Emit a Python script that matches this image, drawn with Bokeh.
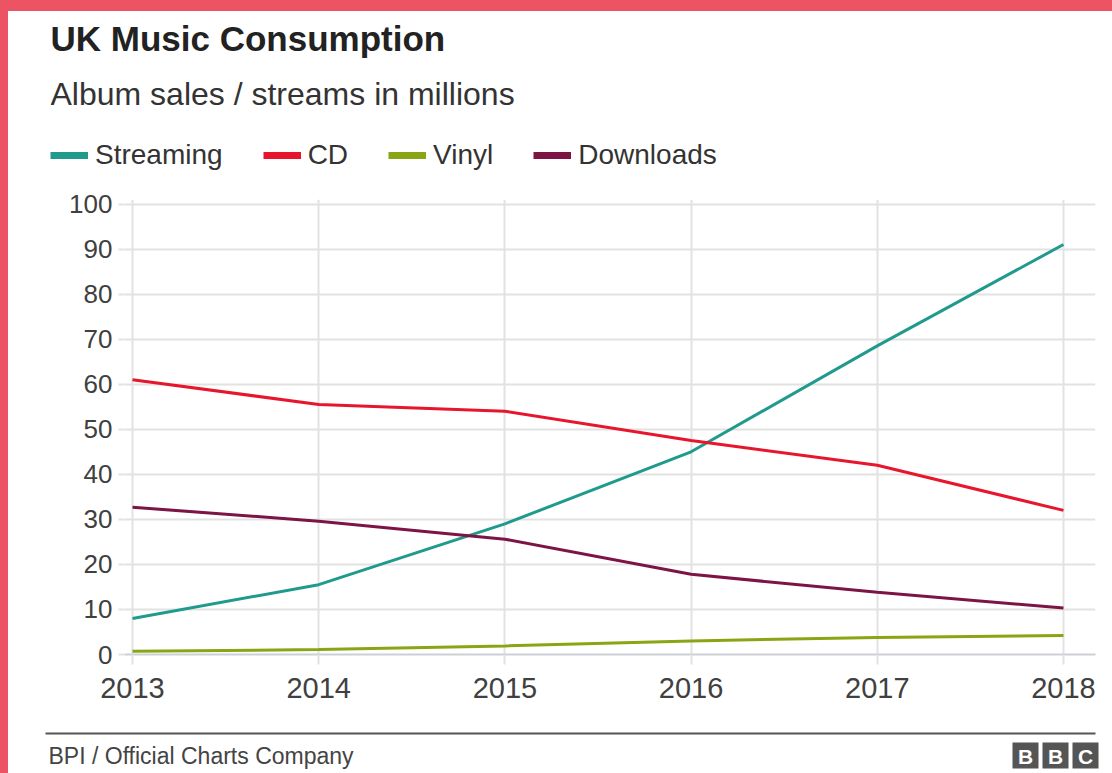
import math
from bokeh.plotting import figure
from bokeh.models import Range1d, FixedTicker, Legend, LegendItem, ColumnDataSource, Div
from bokeh.layouts import column, row
from bokeh.embed import file_html
from bokeh.resources import INLINE
from bokeh.core.properties import value

# ---- data ----
years = [2013, 2014, 2015, 2016, 2017, 2018]
streaming = [8, 15.5, 29, 45, 68.5, 91]
cd = [61, 55.5, 54, 47.5, 42, 32]
vinyl = [0.7, 1.1, 1.9, 3.0, 3.8, 4.2]
downloads = [32.7, 29.6, 25.6, 17.8, 13.8, 10.3]
series_names = ["Streaming", "CD", "Vinyl", "Downloads"]
series_colors = ["#1f9a8c", "#e8162c", "#8aa514", "#7d1446"]
y_ticks = [0, 10, 20, 30, 40, 50, 60, 70, 80, 90, 100]
title_text = "UK Music Consumption"
subtitle_text = "Album sales / streams in millions"
source_text = "BPI / Official Charts Company"
logo_letters = ["B", "B", "C"]

FONT = "Liberation Sans"
GRID = "#e2e2e2"
RED_BORDER = "#ec5463"

# ---- header: title, subtitle, legend ----
h = figure(width=1104, height=168, output_backend="svg", toolbar_location=None,
           x_range=Range1d(42, 1104), y_range=Range1d(160, 0),
           min_border_left=42, min_border_right=0, min_border_top=0,
           min_border_bottom=8)
h.frame_align = False
h.axis.visible = False
h.grid.visible = False
h.outline_line_color = None
h.background_fill_color = "white"
h.border_fill_color = "white"
h.text(x=[42], y=[27], text=[title_text], text_font=value(FONT),
       text_font_size="35px", text_font_style="bold", text_color="#222222",
       text_baseline="middle")
h.text(x=[42], y=[82], text=[subtitle_text], text_font=value(FONT),
       text_font_size="32px", text_color="#333333", text_baseline="middle")

items = []
for name, col in zip(series_names, series_colors):
    # legend swatch renderer: a single undefined point, nothing drawn in the frame
    sw = h.line(x=[math.nan], y=[math.nan], line_color=col, line_width=7)
    items.append(LegendItem(label=name, renderers=[sw]))
legend = Legend(items=items, orientation="horizontal", location="bottom_left",
                glyph_width=38, glyph_height=32, label_height=32,
                label_standoff=7, spacing=40, padding=0, margin=0,
                border_line_color=None, background_fill_alpha=0,
                label_text_font=FONT, label_text_font_size="28px",
                label_text_color="#333333")
h.add_layout(legend, "center")

# ---- main chart ----
p = figure(width=1104, height=534, output_backend="svg", toolbar_location=None,
           x_range=Range1d(2012.957, 2018.172), y_range=Range1d(0, 101),
           min_border_left=116, min_border_right=17, min_border_top=20,
           min_border_bottom=59)
p.frame_align = False
p.outline_line_color = None
p.background_fill_color = "white"
p.border_fill_color = "white"

p.xgrid.ticker = FixedTicker(ticks=years)
p.ygrid.ticker = FixedTicker(ticks=y_ticks)
p.xgrid.grid_line_color = GRID
p.ygrid.grid_line_color = GRID
p.xgrid.grid_line_width = 2
p.ygrid.grid_line_width = 2

p.xaxis.ticker = FixedTicker(ticks=years)
p.xaxis.axis_line_color = "#cdcfd6"
p.xaxis.axis_line_width = 2
p.xaxis.major_tick_line_color = GRID
p.xaxis.major_tick_line_width = 2
p.xaxis.major_tick_out = 10
p.xaxis.major_tick_in = 0
p.xaxis.minor_tick_line_color = None
p.xaxis.major_label_standoff = 13
p.xaxis.major_label_text_font = FONT
p.xaxis.major_label_text_font_size = "29px"
p.xaxis.major_label_text_color = "#404040"

p.yaxis.ticker = FixedTicker(ticks=y_ticks)
p.yaxis.axis_line_color = None
p.yaxis.major_tick_line_color = GRID
p.yaxis.major_tick_line_width = 2
p.yaxis.major_tick_out = 6
p.yaxis.major_tick_in = 0
p.yaxis.minor_tick_line_color = None
p.yaxis.major_label_standoff = 6
p.yaxis.major_label_text_font = FONT
p.yaxis.major_label_text_font_size = "26px"
p.yaxis.major_label_text_color = "#404040"

for name, vals, col in zip(series_names, [streaming, cd, vinyl, downloads], series_colors):
    src = ColumnDataSource(dict(x=years, y=vals))
    p.line("x", "y", source=src, line_color=col, line_width=3)

# ---- footer ----
f = figure(width=1104, height=60, output_backend="svg", toolbar_location=None,
           x_range=Range1d(0, 1104), y_range=Range1d(60, 0), min_border=0)
f.frame_align = False
f.axis.visible = False
f.grid.visible = False
f.outline_line_color = None
f.background_fill_color = "white"
f.border_fill_color = "white"
f.segment(x0=[37], y0=[20], x1=[1087], y1=[20], line_color="#555555", line_width=2)
f.text(x=[40], y=[42], text=[source_text], text_font=value(FONT),
       text_font_size="23px", text_color="#444444", text_baseline="middle")
logo_x = [1017, 1047, 1077]
f.rect(x=logo_x, y=[42] * 3, width=26, height=26, fill_color="#555555",
       line_color=None)
f.text(x=logo_x, y=[43] * 3, text=logo_letters, text_font=value(FONT),
       text_font_size="21px", text_font_style="bold", text_color="white",
       text_align="center", text_baseline="middle")

# ---- red frame around the graphic ----
top_bar = Div(text="", width=1112, height=11, margin=0,
              styles={"background-color": RED_BORDER})
left_bar = Div(text="", width=8, height=762, margin=0,
               styles={"background-color": RED_BORDER})
body = column(h, p, f, spacing=0, styles={"background-color": "white"})
layout = column(top_bar, row(left_bar, body, spacing=0), spacing=0,
                styles={"background-color": "white"})

open("out.html", "w").write(file_html(layout, INLINE))
